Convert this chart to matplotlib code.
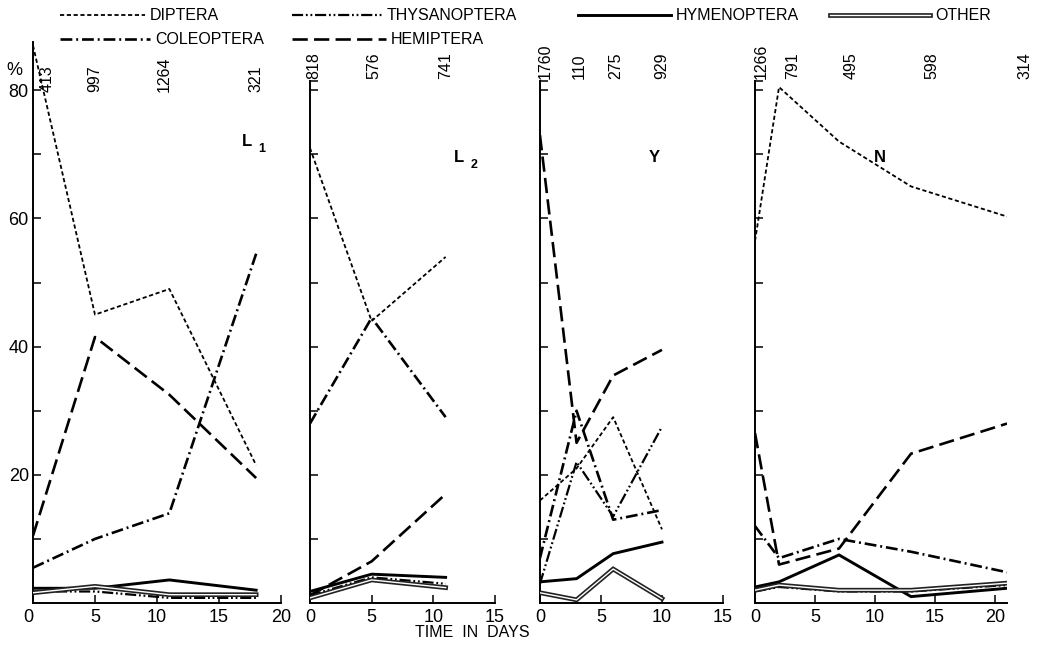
import matplotlib
matplotlib.use("Agg")
import matplotlib.pyplot as plt
import matplotlib.patheffects as pe
from matplotlib.lines import Line2D

plt.rcParams['font.family'] = ['Liberation Sans', 'DejaVu Sans']
plt.rcParams['lines.scale_dashes'] = False

# sampling days for each site
days_l1 = [0, 5, 11, 18]
days_l2 = [0, 5, 11]
days_y = [0, 3, 6, 10]
days_n = [0, 2, 7, 13, 21]

# percentage of catch per order, site L1
diptera_l1 = [87, 45, 49, 21.5]
coleoptera_l1 = [5.5, 10, 14, 54.5]
thysanoptera_l1 = [1.8, 1.8, 0.8, 0.8]
hemiptera_l1 = [10.5, 41.5, 32.5, 19.5]
hymenoptera_l1 = [2.3, 2.3, 3.6, 2.0]
other_l1 = [1.6, 2.6, 1.3, 1.3]

# site L2
diptera_l2 = [71, 44, 54]
coleoptera_l2 = [28, 44.5, 29]
thysanoptera_l2 = [1.2, 4.0, 3.0]
hemiptera_l2 = [1.2, 6.5, 17]
hymenoptera_l2 = [1.8, 4.5, 4.0]
other_l2 = [0.8, 3.6, 2.4]

# site Y
diptera_y = [16, 21, 29, 11.5]
coleoptera_y = [7, 30, 13, 14.5]
thysanoptera_y = [3, 22, 13.5, 27.5]
hemiptera_y = [73, 25, 35.5, 39.5]
hymenoptera_y = [3.3, 3.8, 7.7, 9.5]
other_y = [1.6, 0.5, 5.3, 0.7]

# site N
diptera_n = [56.5, 80.5, 72, 65, 60.3]
coleoptera_n = [12, 7, 10, 8, 4.8]
thysanoptera_n = [1.8, 2.5, 1.8, 1.8, 2.8]
hemiptera_n = [26.5, 6, 8.5, 23.3, 28]
hymenoptera_n = [2.5, 3.3, 7.5, 1.0, 2.3]
other_n = [2.0, 2.8, 2.0, 2.0, 3.1]

# number of insects caught on each sampling day
counts_l1 = ['413', '997', '1264', '321']
counts_l2 = ['818', '576', '741']
counts_y = ['1760', '110', '275', '929']
counts_n = ['1266', '791', '495', '598', '314']
count_x_l1 = [1.1, 5, 10.6, 18]
count_x_l2 = [0.3, 5.2, 11]
count_x_y = [0.4, 3.2, 6.2, 10]
count_x_n = [0.5, 3.1, 8, 14.7, 22.5]

orders = ['DIPTERA', 'COLEOPTERA', 'THYSANOPTERA', 'HEMIPTERA', 'HYMENOPTERA', 'OTHER']

styles = {
    'DIPTERA': dict(color='black', lw=1.3, ls=(0, (3.0, 1.9))),
    'COLEOPTERA': dict(color='black', lw=1.9, ls=(0, (8.5, 2.8, 1.4, 2.8))),
    'THYSANOPTERA': dict(color='black', lw=1.6, ls=(0, (8.0, 2.0, 1.3, 2.0, 1.3, 2.0))),
    'HEMIPTERA': dict(color='black', lw=1.9, ls=(0, (11.0, 4.5))),
    'HYMENOPTERA': dict(color='black', lw=2.1, ls='-'),
    'OTHER': dict(color='white', lw=1.0, ls='-',
                  path_effects=[pe.Stroke(linewidth=3.4, foreground='#222222'), pe.Normal()]),
}

panels = [
    ('L', '1', days_l1, [diptera_l1, coleoptera_l1, thysanoptera_l1, hemiptera_l1, hymenoptera_l1, other_l1],
     counts_l1, count_x_l1, 79.8, 20, [0.0316, 0.2375], (17.3, 72)),
    ('L', '2', days_l2, [diptera_l2, coleoptera_l2, thysanoptera_l2, hemiptera_l2, hymenoptera_l2, other_l2],
     counts_l2, count_x_l2, 81.8, 15, [0.2969, 0.1772], (12.1, 69.5)),
    ('Y', '', days_y, [diptera_y, coleoptera_y, thysanoptera_y, hemiptera_y, hymenoptera_y, other_y],
     counts_y, count_x_y, 81.8, 15, [0.5172, 0.1753], (9.4, 69.5)),
    ('N', '', days_n, [diptera_n, coleoptera_n, thysanoptera_n, hemiptera_n, hymenoptera_n, other_n],
     counts_n, count_x_n, 81.8, 21, [0.7232, 0.2414], (10.4, 69.5)),
]

fig = plt.figure(figsize=(10.44, 6.45), dpi=100)
bottom, height = 0.0651, 0.8744
ytop = 88
axis_top = 81.5

for i, (name, sub, days, series, counts, count_x, count_y, xmax, (left, width), label_xy) in enumerate(panels):
    ax = fig.add_axes([left, bottom, width, height])
    for order, vals in zip(orders, series):
        ax.plot(days, vals, **styles[order], solid_joinstyle='miter', zorder=3)
    ax.set_xlim(0, xmax)
    ax.set_ylim(0, ytop)
    for side in ['top', 'right']:
        ax.spines[side].set_visible(False)
    for side in ['left', 'bottom']:
        ax.spines[side].set_linewidth(1.4)
    ax.set_xticks([t for t in [0, 5, 10, 15, 20] if t <= xmax])
    ax.set_yticks([20, 40, 60, 80])
    if i == 0:
        ax.spines['left'].set_bounds(0, 87.5)
        ax.set_yticks([10, 30, 50, 70], minor=True)
        ax.set_yticklabels(['20', '40', '60', '80'])
    else:
        # short cap at the top of the axis
        ax.spines['left'].set_bounds(0, axis_top)
        ax.set_yticks([10, 30, 50, 70, axis_top], minor=True)
        ax.set_yticklabels([])
    ax.tick_params(which='both', direction='in', length=6, width=1.1, labelsize=13, pad=4)
    ax.tick_params(axis='y', pad=3)
    if i == 0:
        ax.get_xticklabels()[0].set_horizontalalignment('right')

    ax.text(label_xy[0], label_xy[1], name, fontsize=12, fontweight='bold', ha='center', va='center')
    if sub:
        ax.annotate(sub, xy=label_xy, xytext=(8, -5), textcoords='offset points',
                    fontsize=9, fontweight='bold', ha='left', va='center')

    for c, cx in zip(counts, count_x):
        ax.text(cx, count_y, c, rotation=90, fontsize=11.5, ha='center', va='bottom', clip_on=False)

fig.text(0.0135, 0.891, '%', fontsize=13, ha='center', va='center')
fig.text(0.452, 0.02, 'TIME  IN  DAYS', fontsize=11.5, ha='center', va='center')

# legend: handle start (px), handle end (px), row y (px)
legend_pos = {
    'DIPTERA': (60, 145, 15),
    'COLEOPTERA': (60, 150, 39),
    'THYSANOPTERA': (292, 382, 15),
    'HEMIPTERA': (292, 386, 39),
    'HYMENOPTERA': (578, 671, 15),
    'OTHER': (830, 930, 15),
}
W, H = 1044, 645
for order in orders:
    x0, x1, yp = legend_pos[order]
    fy = 1 - yp / H
    fig.add_artist(Line2D([x0 / W, x1 / W], [fy, fy], transform=fig.transFigure, **styles[order]))
    fig.text((x1 + 5) / W, fy, order, fontsize=11.5, ha='left', va='center')

fig.savefig('out.png', dpi=100)
